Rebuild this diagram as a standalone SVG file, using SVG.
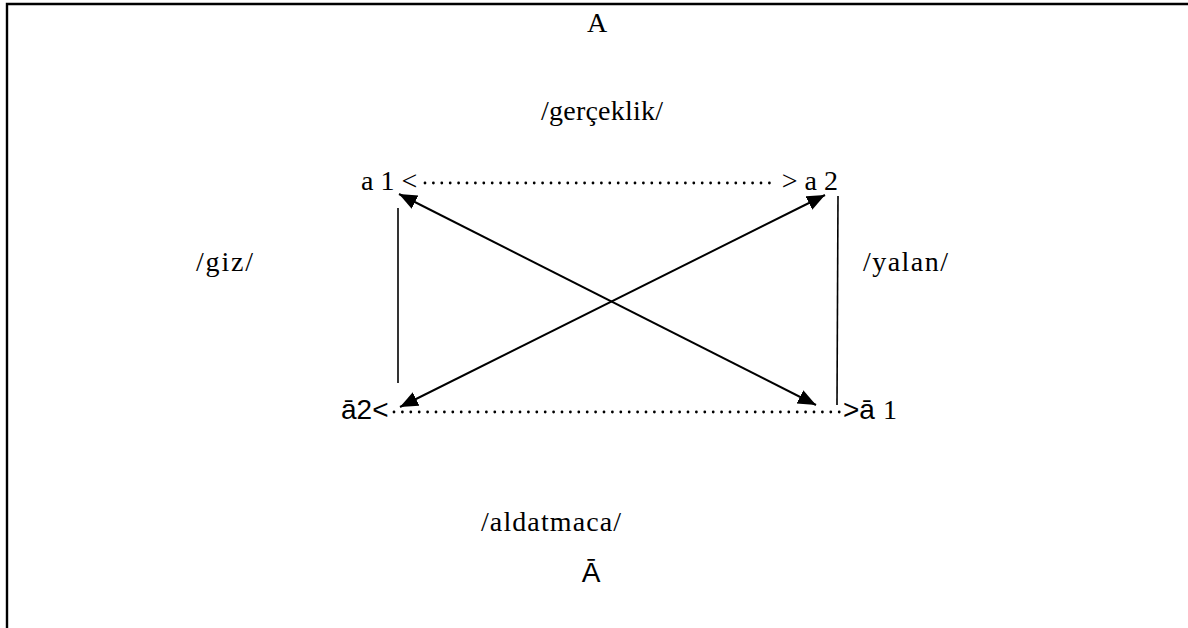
<svg xmlns="http://www.w3.org/2000/svg" width="1188" height="628" viewBox="0 0 1188 628">
<style>
.serif{font-family:"Liberation Serif","Times New Roman",serif;font-size:28px;fill:#000}
.sans{font-family:"Liberation Sans",Arial,sans-serif;font-size:28px;fill:#000}
.ln{stroke:#000;stroke-width:2;fill:none}
.thin{stroke:#000;stroke-width:1.6;fill:none}
.dots{stroke:#000;stroke-width:2.8;stroke-linecap:round;stroke-dasharray:0 8.4;fill:none}
</style>
<defs>
<marker id="ah" markerUnits="userSpaceOnUse" markerWidth="20" markerHeight="16" refX="18" refY="7.5" orient="auto-start-reverse">
<path d="M0,0 L18,7.5 L0,15 z" fill="#000"/>
</marker>
</defs>
<rect width="1188" height="628" fill="#fff"/>
<path d="M7,628 V4 H1188" stroke="#000" stroke-width="2.4" fill="none"/>
<g id="title-A"><text class="serif" x="597" y="32" text-anchor="middle">A</text></g>
<g id="label-gerceklik"><text class="serif" x="541" y="120" textLength="122" lengthAdjust="spacing">/gerçeklik/</text></g>
<g id="node-a1"><text class="serif" x="361" y="190">a 1 &lt;</text></g>
<g id="node-a2"><text class="serif" x="838" y="190" text-anchor="end">&gt; a 2</text></g>
<g id="label-giz"><text class="serif" x="196" y="271" textLength="57" lengthAdjust="spacing">/giz/</text></g>
<g id="label-yalan"><text class="serif" x="863" y="271" textLength="85" lengthAdjust="spacing">/yalan/</text></g>
<g id="node-abar2"><text class="sans" x="341" y="419">ā2&lt;</text></g>
<g id="node-abar1"><text class="sans" x="843" y="419">&gt;ā</text><text class="serif" x="883" y="419">1</text></g>
<g id="label-aldatmaca"><text class="serif" x="481" y="531" textLength="140" lengthAdjust="spacing">/aldatmaca/</text></g>
<g id="title-Abar"><text class="sans" x="591" y="582" text-anchor="middle">Ā</text></g>
<g id="connectors">
<line class="dots" x1="425" y1="183" x2="771" y2="183"/>
<line class="dots" x1="394" y1="412" x2="840" y2="412"/>
<line class="thin" x1="398" y1="208" x2="398" y2="383"/>
<line class="thin" x1="838" y1="196" x2="837" y2="405"/>
<line class="ln" x1="399" y1="194" x2="816" y2="405" marker-start="url(#ah)" marker-end="url(#ah)"/>
<line class="ln" x1="825" y1="195" x2="400" y2="407" marker-start="url(#ah)" marker-end="url(#ah)"/>
</g>
</svg>
